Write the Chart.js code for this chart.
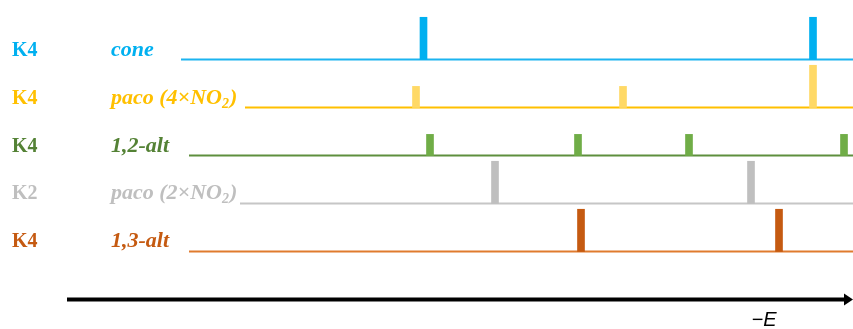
<!DOCTYPE html>
<html>
<head>
<meta charset="utf-8">
<script src="https://cdn.jsdelivr.net/npm/chart.js@4"></script>
<style>
  html, body { margin: 0; padding: 0; background: #fff; }
  #wrap { width: 853px; height: 329px; position: relative; }
</style>
</head>
<body>
<div id="wrap"><canvas id="canvas"></canvas></div>
<script>
// conformers, top to bottom
var conformers = ['cone', 'paco (4×NO₂)', '1,2-alt', 'paco (2×NO₂)', '1,3-alt'];
var kLabels = ['K4', 'K4', 'K4', 'K2', 'K4'];
var rowLevel = [5, 4, 3, 2, 1];

// peak positions along -E and their relative heights (degeneracy)
var conePos = [423.5, 813];
var coneDeg = [2, 2];
var paco4Pos = [416, 623, 813];
var paco4Deg = [1, 1, 2];
var alt12Pos = [430, 578, 689, 844];
var alt12Deg = [1, 1, 1, 1];
var paco2Pos = [495, 751];
var paco2Deg = [2, 2];
var alt13Pos = [581, 779];
var alt13Deg = [2, 2];

// where each baseline starts, and the end of the axis
var baseStart = [181, 245, 189, 240, 189];
var axisEnd = 853;
var arrowStart = 67;

var textColors = ['#00B0F0', '#FFC000', '#548235', '#BFBFBF', '#C55A11'];
var barColors = ['#00B0F0', '#FFD966', '#70AD47', '#BFBFBF', '#C55A11'];
var lineColors = ['#1CB4F0', '#FFC000', '#5E8F3E', '#C6C6C6', '#E07B2E'];

var PEAK_UNIT = 0.44;

var allPos = [conePos, paco4Pos, alt12Pos, paco2Pos, alt13Pos];
var allDeg = [coneDeg, paco4Deg, alt12Deg, paco2Deg, alt13Deg];

var datasets = [];
for (var i = 0; i < conformers.length; i++) {
    datasets.push({
        type: 'line',
        data: [{x: baseStart[i], y: rowLevel[i]}, {x: axisEnd, y: rowLevel[i]}],
        borderColor: lineColors[i],
        borderWidth: 2,
        pointRadius: 0,
        order: 2
    });
    datasets.push({
        type: 'bar',
        data: allPos[i].map(function (p, j) {
            return {x: p, y: [rowLevel[i], rowLevel[i] + allDeg[i][j] * PEAK_UNIT]};
        }),
        backgroundColor: barColors[i],
        barThickness: 7,
        grouped: false,
        order: 1
    });
}
// -E axis
datasets.push({
    type: 'line',
    data: [{x: arrowStart, y: 0}, {x: axisEnd - 7, y: 0}],
    borderColor: '#000',
    borderWidth: 4,
    pointRadius: 0
});

function drawRich(ctx, text, x, y, size) {
    var parts = text.split('₂');
    for (var k = 0; k < parts.length; k++) {
        ctx.font = 'bold italic ' + size + 'px "Liberation Serif"';
        ctx.fillText(parts[k], x, y);
        x += ctx.measureText(parts[k]).width;
        if (k < parts.length - 1) {
            ctx.font = 'bold italic ' + Math.round(size * 0.65) + 'px "Liberation Serif"';
            ctx.fillText('2', x, y + 4);
            x += ctx.measureText('2').width + 1;
        }
    }
}

var labelsPlugin = {
    id: 'labels',
    afterDraw: function (chart) {
        var ctx = chart.ctx;
        var xs = chart.scales.x, ys = chart.scales.y;
        ctx.save();
        ctx.textBaseline = 'alphabetic';
        ctx.textAlign = 'left';
        for (var i = 0; i < conformers.length; i++) {
            var y = ys.getPixelForValue(rowLevel[i]) - 4;
            ctx.fillStyle = textColors[i];
            ctx.font = 'bold 20px "Liberation Serif"';
            ctx.fillText(kLabels[i], 12, y);
            drawRich(ctx, conformers[i], 111, y, 22);
        }
        // arrow head
        var ay = ys.getPixelForValue(0);
        var tip = xs.getPixelForValue(axisEnd);
        ctx.fillStyle = '#000';
        ctx.beginPath();
        ctx.moveTo(tip, ay);
        ctx.lineTo(tip - 9, ay - 6);
        ctx.lineTo(tip - 9, ay + 6);
        ctx.closePath();
        ctx.fill();
        // axis title
        ctx.font = 'italic 20px "Liberation Sans"';
        ctx.textAlign = 'center';
        ctx.fillText('\u2212E', 764, ay + 27);
        ctx.restore();
    }
};

var ctx = document.getElementById('canvas').getContext('2d');
var myChart = new Chart(ctx, {
    type: 'bar',
    data: { datasets: datasets },
    options: {
        responsive: true,
        maintainAspectRatio: false,
        animation: false,
        layout: { padding: 0 },
        plugins: {
            legend: { display: false },
            tooltip: { enabled: false }
        },
        scales: {
            x: { type: 'linear', min: 0, max: axisEnd, offset: false, display: false },
            y: { type: 'linear', min: -0.615, max: 6.24, display: false }
        }
    },
    plugins: [labelsPlugin]
});
</script>
</body>
</html>
